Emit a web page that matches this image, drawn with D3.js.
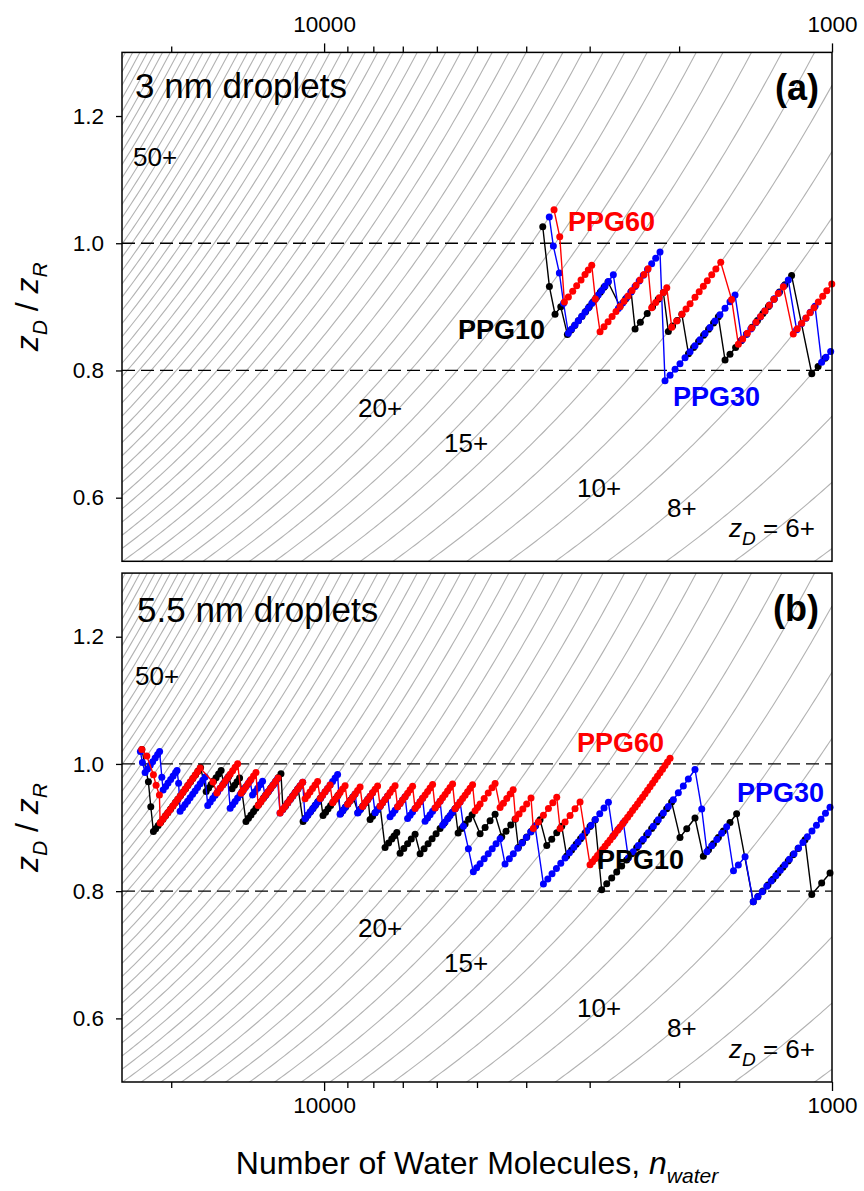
<!DOCTYPE html>
<html>
<head>
<meta charset="utf-8">
<script src="https://cdn.jsdelivr.net/npm/d3@7/dist/d3.min.js"></script>
<style>
  html, body { margin: 0; padding: 0; background: #fff; }
  svg text { font-family: Arial, "Liberation Sans", Helvetica, sans-serif; fill: #000; }
</style>
</head>
<body>
<svg id="fig" width="864" height="1191"></svg>
<script>
// Rayleigh limit of a water droplet holding n molecules: z_R = K_RAYLEIGH * sqrt(n)
const K_RAYLEIGH = 0.304;

const nDomain = [25000, 1000];
const ratioDomain = [0.5, 1.3];
const xMajorTicks = [10000, 1000];
const xMinorTicks = [20000, 9000, 8000, 7000, 6000, 5000, 4000, 3000, 2000];
const yTicks = [0.6, 0.8, 1.0, 1.2];
const referenceRatios = [0.8, 1.0];
const isoCharges = d3.range(1, 81);
const chargeLabels = ["50+", "20+", "15+", "10+", "8+", "6+"];

// Each trajectory: [charge z_D, [n_water of successive snapshots]]
const ppg10_3nm = [
  [19, [3711]], [17, [3601]], [16, [3510, 3420]],
  [15, [3319, 3264, 3211, 3158, 3106, 3055, 3005, 2956, 2908, 2859, 2811, 2761]],
  [14, [2614, 2549, 2486]],
  [13, [2442, 2384, 2311, 2256, 2199, 2148]],
  [12, [2100, 2060, 2018, 1975]],
  [11, [1917, 1873, 1831, 1790, 1750, 1711, 1674]],
  [10, [1624, 1588, 1548, 1510, 1473, 1437, 1402, 1368, 1334, 1301, 1269, 1238, 1201]],
  [8, [1096, 1065, 1032]]
];
const ppg30_3nm = [
  [19, [3603]], [18, [3537]], [17, [3442]], [16, [3377]],
  [15, [3304, 3254, 3206, 3158, 3111, 3064, 3019, 2972, 2929, 2886, 2841, 2798, 2756, 2695]],
  [14, [2634, 2584, 2535, 2488, 2442, 2397, 2352, 2308, 2265, 2224, 2181]],
  [11, [2132, 2084, 2037, 1992, 1947, 1903, 1861, 1819, 1778, 1739, 1700, 1662, 1624, 1588, 1552]],
  [10, [1505, 1474, 1445, 1413, 1384, 1355, 1327, 1299, 1272, 1244, 1219]],
  [9, [1174, 1149, 1126, 1103, 1080]],
  [8, [1048, 1028, 1006]]
];
const ppg60_3nm = [
  [19, [3526]], [18, [3436]],
  [16, [3364, 3304, 3240, 3182, 3120, 3064, 3019, 2972]],
  [15, [2924]],
  [14, [2862, 2811, 2760, 2710, 2662, 2614, 2567, 2521, 2475, 2431, 2388, 2345, 2302]],
  [13, [2265, 2224, 2188, 2148, 2115]],
  [12, [2068, 2022, 1975, 1938, 1903, 1861, 1826, 1792, 1760, 1725, 1693, 1656]],
  [11, [1576]],
  [10, [1529, 1499, 1468, 1440, 1411, 1382, 1355, 1329, 1301, 1276, 1247]],
  [9, [1192, 1170, 1147, 1125, 1105, 1085, 1064, 1043, 1024, 1001]]
];

const ppg10_55nm = [
  [47, [22850]], [44, [22180]], [42, [21940]],
  [40, [21680, 21460, 21220, 20980, 20750, 20510, 20290, 20050, 19830, 19610, 19390, 19170, 18950, 18740, 18530, 18320, 18120, 17910, 17710, 17510]],
  [38, [17070, 16880, 16690, 16500, 16320, 16130, 15950]],
  [37, [15770, 15590, 15420]],
  [36, [15180, 15010, 14840, 14670]],
  [35, [14510]],
  [33, [14250, 14090, 13930, 13770, 13620, 13460, 13310, 13160, 13010, 12870, 12720, 12580, 12440, 12300, 12160]],
  [31, [12050, 11910, 11780, 11640, 11510, 11380, 11250]],
  [29, [11000, 10880, 10760, 10630, 10510, 10400, 10280, 10160]],
  [28, [10050, 9933, 9820, 9710, 9601, 9492, 9385]],
  [27, [9280, 9175, 9072, 8969, 8868, 8768]],
  [26, [8572, 8476, 8380, 8286, 8192]],
  [25, [8118, 8027, 7936, 7847, 7759]],
  [23, [7585, 7466, 7358, 7282, 7193]],
  [22, [7086, 6968, 6849, 6735, 6620]],
  [21, [6471, 6355, 6241, 6129, 6019, 5911, 5805, 5700, 5598, 5522]],
  [20, [5447, 5361, 5277, 5194, 5112]],
  [19, [4930, 4820, 4712, 4606]],
  [18, [4469, 4383, 4290, 4207]],
  [17, [4145, 4068, 3990, 3913, 3835, 3757]],
  [16, [3644, 3563, 3483, 3405]],
  [15, [3329, 3256, 3190, 3127, 3064, 2995, 2928]],
  [13, [2841, 2777, 2715, 2654, 2595, 2537, 2480, 2424, 2370, 2317, 2265, 2214, 2165, 2116, 2069]],
  [12, [1992, 1932, 1861]],
  [11, [1792, 1750, 1712, 1674, 1636, 1588, 1541]],
  [9, [1429, 1399, 1368, 1337, 1307, 1277, 1249, 1220, 1193, 1166, 1130]],
  [8, [1096, 1048, 1009]]
];
const ppg30_55nm = [
  [47, [23000]], [46, [22790]],
  [45, [22514, 22260, 22000, 21760, 21510, 21270, 21080]],
  [43, [20870]],
  [42, [20750, 20510, 20290, 20050, 19830, 19610, 19480]],
  [41, [19340]],
  [39, [19210, 18990, 18780, 18570, 18360, 18150, 17950, 17750, 17540, 17340, 17150]],
  [37, [16950, 16760, 16570, 16390, 16200, 16020, 15840, 15660, 15480]],
  [35, [15310, 15140, 14970, 14800, 14640, 14470, 14310, 14150, 13990]],
  [34, [13830, 13680, 13520, 13370, 13220]],
  [33, [13070, 12920, 12780, 12630, 12490, 12350]],
  [31, [12210, 12070, 11940, 11800, 11670, 11540, 11410, 11280, 11150, 11020]],
  [29, [10900, 10780, 10660, 10540, 10420, 10300, 10180, 10070, 9955, 9843, 9732, 9623, 9514, 9407]],
  [27, [9301, 9196, 9093, 8990, 8888, 8788, 8689]],
  [26, [8591, 8495, 8399, 8305, 8211, 8118, 8027]],
  [25, [7936, 7847, 7759, 7671, 7585, 7499]],
  [24, [7415, 7331, 7249, 7167, 7086, 7006, 6927]],
  [23, [6849, 6772, 6696, 6620, 6545, 6471, 6398]],
  [22, [6327, 6255, 6185, 6115, 6046, 5978, 5911]],
  [21, [5844, 5778, 5713, 5649, 5585, 5522, 5460, 5398]],
  [20, [5318]], [19, [5199]],
  [18, [5084, 5007, 4930, 4840, 4752, 4667, 4586, 4503]],
  [17, [4403, 4318, 4241, 4157, 4076, 3998, 3920, 3843]],
  [15, [3700, 3627, 3558, 3488, 3420, 3354, 3289, 3224, 3162, 3101, 3040, 2981, 2924, 2866, 2811, 2756]],
  [14, [2695, 2634, 2575]],
  [13, [2518, 2462, 2406, 2352, 2300, 2248, 2198, 2148, 2100, 2053, 2007, 1962, 1918, 1861]],
  [12, [1805]],
  [11, [1763, 1725, 1686, 1649, 1612]],
  [10, [1563, 1529, 1483]],
  [9, [1429, 1400, 1372, 1344, 1317, 1290, 1264, 1238, 1213, 1188, 1164, 1141, 1118, 1095, 1073, 1051, 1030, 1009]]
];
const ppg60_55nm = [
  [47, [22850]], [46, [22340]], [44, [21680]], [43, [21420]], [42, [21100]],
  [40, [21030, 20790, 20560, 20330, 20100, 19870, 19650, 19430, 19210, 18990, 18780, 18570, 18360, 18150, 17950, 17750, 17540]],
  [38, [16550]],
  [37, [16260, 16020, 15840, 15660, 15480, 15310, 15140, 14970, 14800]],
  [35, [14570, 14410, 14250, 14090, 13930, 13770, 13620]],
  [33, [13490, 13340, 13190, 13040, 12900, 12750, 12610, 12460, 12320]],
  [31, [12210, 12070, 11940, 11800, 11670, 11540, 11410, 11280, 11150, 11020]],
  [30, [10900, 10780, 10660, 10540, 10420, 10300]],
  [29, [10180, 10070, 9955, 9843, 9732]],
  [28, [9623, 9514, 9407, 9301, 9196, 9093]],
  [27, [8990, 8888, 8788, 8689, 8591, 8495]],
  [26, [8399, 8305, 8211, 8118, 8027, 7936, 7847]],
  [25, [7759, 7671, 7585, 7499, 7415, 7331, 7249]],
  [24, [7167, 7086, 7006, 6927, 6849, 6772, 6696]],
  [23, [6620, 6545, 6471, 6398, 6327, 6255, 6185, 6115]],
  [22, [6046, 5978, 5911, 5844, 5778, 5713, 5649, 5585]],
  [21, [5522, 5460, 5398, 5337, 5277, 5218, 5159, 5101]],
  [20, [5043, 4986, 4930, 4840, 4752, 4670, 4606]],
  [19, [4503, 4436, 4368, 4302, 4244]],
  [18, [4198, 4132, 4062, 3992, 3914]],
  [17, [3873, 3786, 3700, 3617, 3546, 3483]],
  [16, [3431, 3354, 3279, 3206, 3134]],
  [14, [2995, 2961, 2928, 2895, 2862, 2830, 2798, 2766, 2735, 2704, 2674, 2644, 2614, 2584, 2555, 2526, 2498, 2470, 2442, 2415, 2388, 2361, 2334, 2308, 2282, 2256, 2231, 2206, 2181, 2156, 2132, 2108, 2084]]
];

const seriesNames = ["PPG10", "PPG30", "PPG60"];
const seriesColors = ["#000000", "#0000ff", "#ff0000"];

// ---- layout ----
const W = 710, H = 508.9, LEFT = 122;
const svg = d3.select("#fig");

const x = d3.scaleLog().domain(nDomain).range([0, W]);
const y = d3.scaleLinear().domain(ratioDomain).range([H, 0]);
const ratio = (n, z) => z / (K_RAYLEIGH * Math.sqrt(n));

const panels = [
  {
    key: "a", top: 52.4, title: "3 nm droplets", titlePos: [13, 45.3], tag: "(a)", tagPos: [697, 47.6],
    data: [ppg10_3nm, ppg30_3nm, ppg60_3nm], axis: "top",
    labels: [[336, 286.6], [551, 353.6], [446, 178.3]],
    zPos: { "50+": [11, 113.3], "20+": [236, 364.3], "15+": [322, 399.3], "10+": [455, 444.3], "8+": [545, 464.3], "6+": [607, 484.6] }
  },
  {
    key: "b", top: 573.1, title: "5.5 nm droplets", titlePos: [15, 48.6], tag: "(b)", tagPos: [697, 47.6],
    data: [ppg10_55nm, ppg30_55nm, ppg60_55nm], axis: "bottom",
    labels: [[475, 296], [615, 228.6], [455, 178.9]],
    zPos: { "50+": [13, 111.9], "20+": [236, 364.3], "15+": [322, 399.3], "10+": [455, 444.3], "8+": [545, 464.3], "6+": [607, 484.6] }
  }
];

const isoLine = d3.line().x(d => x(d[0])).y(d => y(d[1]));
const dataLine = d3.line().x(d => x(d.n)).y(d => y(ratio(d.n, d.z)));

panels.forEach(p => {
  const g = svg.append("g").attr("transform", `translate(${LEFT},${p.top})`);

  g.append("clipPath").attr("id", "clip-" + p.key)
    .append("rect").attr("width", W).attr("height", H);

  // constant-charge curves
  const iso = g.append("g").attr("clip-path", `url(#clip-${p.key})`);
  isoCharges.forEach(z => {
    const pts = d3.range(0, 241).map(i => {
      const n = nDomain[0] * Math.pow(nDomain[1] / nDomain[0], i / 240);
      return [n, ratio(n, z)];
    }).filter(d => d[1] < 3);
    iso.append("path").attr("d", isoLine(pts))
      .attr("fill", "none").attr("stroke", "#b2b2b2").attr("stroke-width", 1.1);
  });

  // dashed reference levels
  g.selectAll(".ref").data(referenceRatios).enter().append("line")
    .attr("x1", 0).attr("x2", W).attr("y1", d => y(d)).attr("y2", d => y(d))
    .attr("stroke", "#000").attr("stroke-width", 1.3).attr("stroke-dasharray", "13,6");

  // charge labels
  const zl = g.append("g").attr("font-size", "26px");
  chargeLabels.forEach(lbl => {
    const [lx, ly] = p.zPos[lbl];
    const t = zl.append("text").attr("x", lx).attr("y", ly);
    if (lbl === "6+") {
      t.append("tspan").attr("font-style", "italic").text("z");
      t.append("tspan").attr("font-style", "italic").attr("font-size", "19px").attr("dy", 8).text("D");
      t.append("tspan").attr("dy", -8).text(" = 6+");
    } else {
      t.text(lbl);
    }
  });

  // trajectories
  p.data.forEach((segs, si) => {
    const pts = [];
    segs.forEach(([z, ns]) => ns.forEach(n => pts.push({ n, z })));
    const sg = g.append("g");
    sg.append("path").attr("d", dataLine(pts)).attr("fill", "none")
      .attr("stroke", seriesColors[si]).attr("stroke-width", 1.4);
    sg.selectAll("circle").data(pts).enter().append("circle")
      .attr("cx", d => x(d.n)).attr("cy", d => y(ratio(d.n, d.z))).attr("r", 3.5)
      .attr("fill", seriesColors[si]);
  });

  // series labels
  p.labels.forEach((pos, si) => {
    g.append("text").attr("x", pos[0]).attr("y", pos[1])
      .attr("font-size", "27px").attr("font-weight", "bold")
      .style("fill", seriesColors[si]).text(seriesNames[si]);
  });

  // titles
  g.append("text").attr("x", p.titlePos[0]).attr("y", p.titlePos[1])
    .attr("font-size", "35px").text(p.title);
  g.append("text").attr("x", p.tagPos[0]).attr("y", p.tagPos[1])
    .attr("text-anchor", "end").attr("font-size", "36px").attr("font-weight", "bold").text(p.tag);

  // frame
  g.append("rect").attr("width", W).attr("height", H)
    .attr("fill", "none").attr("stroke", "#000").attr("stroke-width", 1.5);

  // y axis
  const ya = g.append("g").call(d3.axisLeft(y).tickValues(yTicks).tickSize(6).tickPadding(12).tickFormat(d3.format(".1f")));
  ya.select(".domain").remove();
  ya.selectAll("line").attr("stroke-width", 1.3);
  ya.selectAll("text").attr("font-size", "22.5px").attr("font-family", null);

  // x axis (top for panel a, bottom for panel b)
  const isTop = p.axis === "top";
  const mk = isTop ? d3.axisTop : d3.axisBottom;
  const xg = g.append("g").attr("transform", isTop ? null : `translate(0,${H})`);
  const major = xg.append("g").call(mk(x).tickValues(xMajorTicks).tickSize(9).tickPadding(isTop ? 11 : 6).tickFormat(d3.format("d")));
  xg.append("g").call(mk(x).tickValues(xMinorTicks).tickSize(6).tickFormat(""));
  xg.selectAll(".domain").remove();
  xg.selectAll("line").attr("stroke-width", 1.3);
  major.selectAll("text").attr("font-size", "22.5px").attr("font-family", null);

  // y axis title
  const yt = svg.append("text")
    .attr("transform", `translate(37.5,${p.top + H / 2}) rotate(-90)`)
    .attr("text-anchor", "middle").attr("font-size", "32px");
  yt.append("tspan").attr("font-style", "italic").text("z");
  yt.append("tspan").attr("font-style", "italic").attr("font-size", "21px").attr("dy", 9).text("D");
  yt.append("tspan").attr("dy", -9).text(" / ");
  yt.append("tspan").attr("font-style", "italic").text("z");
  yt.append("tspan").attr("font-style", "italic").attr("font-size", "21px").attr("dy", 9).text("R");
});

// x axis title
const xt = svg.append("text").attr("x", LEFT + W / 2).attr("y", 1174)
  .attr("text-anchor", "middle").attr("font-size", "32px");
xt.append("tspan").text("Number of Water Molecules, ");
xt.append("tspan").attr("font-style", "italic").text("n");
xt.append("tspan").attr("font-style", "italic").attr("font-size", "21px").attr("dy", 9).text("water");
</script>
</body>
</html>
